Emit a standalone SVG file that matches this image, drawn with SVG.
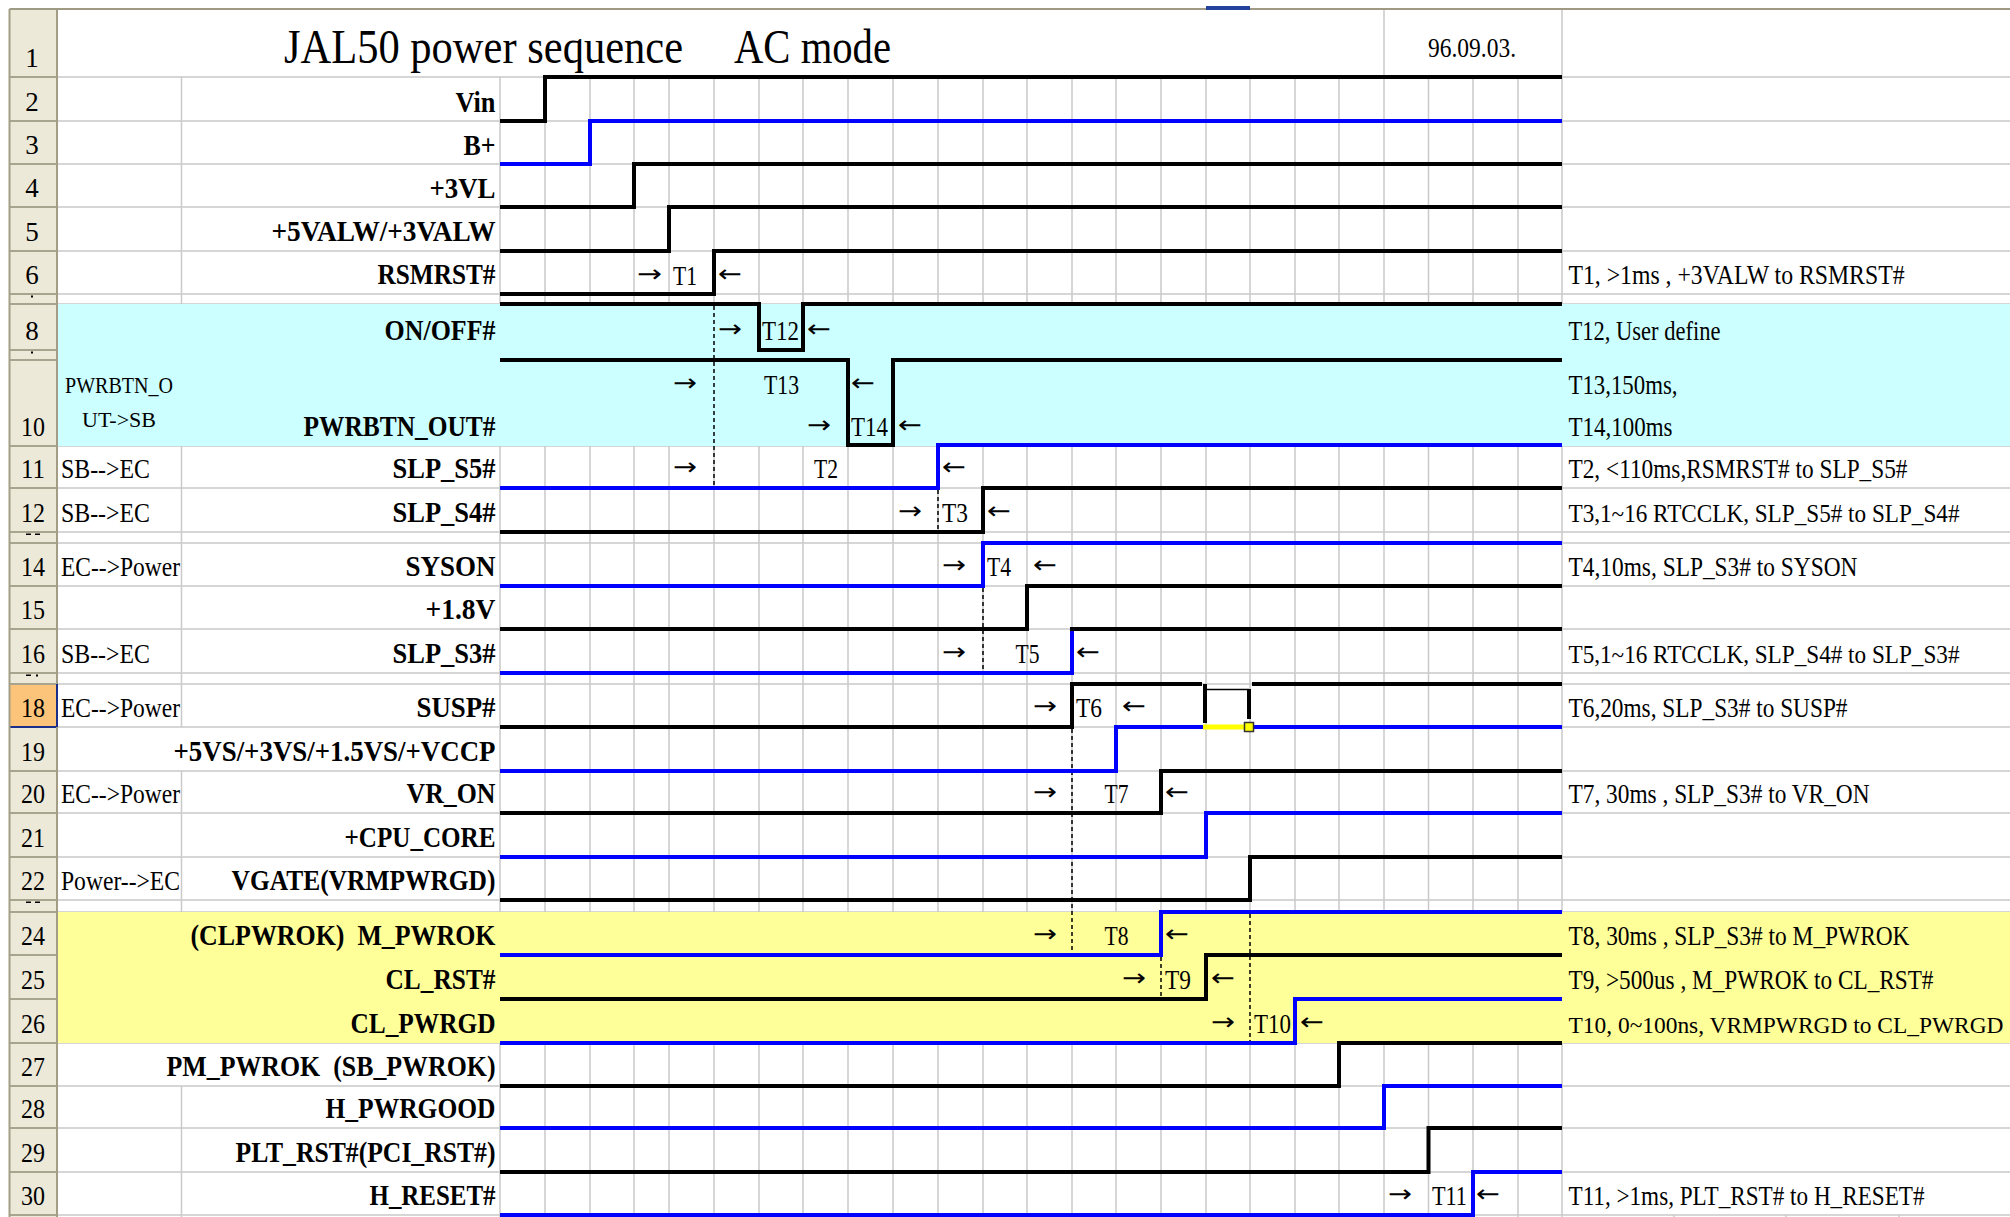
<svg xmlns="http://www.w3.org/2000/svg" width="2010" height="1217" viewBox="0 0 2010 1217">
<style>
.g{stroke:#C9C9C9;stroke-width:1.5;fill:none}
.h{stroke:#A9A48E;stroke-width:2;fill:none}
.k{fill:none;stroke:#000;stroke-width:4;stroke-linejoin:miter}
.b{fill:none;stroke:#0000FF;stroke-width:4;stroke-linejoin:miter}
.d{stroke:#000;stroke-width:1.5;stroke-dasharray:4 3;fill:none}
.lb{font-family:"Liberation Serif","DejaVu Serif",serif;font-weight:bold;font-size:29px;text-anchor:end;fill:#000}
.tx{font-family:"Liberation Serif","DejaVu Serif",serif;font-size:27px;fill:#000}
.ar{font-family:"DejaVu Sans","Liberation Sans",sans-serif;font-size:24px;fill:#000}
.nm{font-family:"Liberation Serif","DejaVu Serif",serif;font-size:27px;text-anchor:middle;fill:#000}
</style>
<rect width="2010" height="1217" fill="#FFFFFF"/>
<!-- grid -->
<g id="grid">
<path class="g" d="M57,77H2010M57,121H2010M57,164H2010M57,207H2010M57,251H2010M57,294H2010M57,304H2010M57,350H2010M57,360H2010M57,446H2010M57,488H2010M57,532H2010M57,543H2010M57,586H2010M57,629H2010M57,673H2010M57,684H2010M57,727H2010M57,771H2010M57,813H2010M57,857H2010M57,900H2010M57,912H2010M57,955H2010M57,999H2010M57,1043H2010M57,1086H2010M57,1128H2010M57,1172H2010M57,1215H2010"/>
<path class="g" d="M181.5,77V727M181.5,771V1043M181.5,1086V1217M500,77V1217M545,77V1217M590,77V1217M634,77V1217M669,77V1217M714,77V1217M759,77V1217M803,77V1217M848,77V1217M893,77V1217M938,77V1217M983,77V1217M1027,77V1217M1072,77V1217M1116,77V1217M1161,77V1217M1206,77V1217M1250,77V1217M1295,77V1217M1339,77V1217M1384,9V1217M1428.5,77V1217M1473,77V1217M1518,77V1217M1562,9V1217M1674,1215V1217M1786,1215V1217M1899,1215V1217"/>
</g>
<!-- bands -->
<rect x="57" y="304" width="1953" height="142" fill="#CCFFFF"/>
<rect x="57" y="912" width="1953" height="131" fill="#FFFF99"/>
<!-- row header -->
<g id="rowheader">
<rect x="9.5" y="9" width="47.5" height="1208" fill="#ECE9D8"/>
<rect x="10" y="684" width="47" height="43" fill="#FBC47A"/>
<path class="h" d="M9.5,77H57M9.5,121H57M9.5,164H57M9.5,207H57M9.5,251H57M9.5,294H57M9.5,304H57M9.5,350H57M9.5,360H57M9.5,446H57M9.5,488H57M9.5,532H57M9.5,543H57M9.5,586H57M9.5,629H57M9.5,673H57M9.5,684H57M9.5,771H57M9.5,813H57M9.5,857H57M9.5,900H57M9.5,912H57M9.5,955H57M9.5,999H57M9.5,1043H57M9.5,1086H57M9.5,1128H57M9.5,1172H57M9.5,1215H57"/>
<path d="M9.5,727H57M57,684V727" stroke="#1A2F8A" stroke-width="2" fill="none"/>
<path d="M57,9V684M57,727V1217M9.5,9V1217" stroke="#A39D85" stroke-width="2" fill="none"/>
<path d="M9.5,9H2010" stroke="#9E9A84" stroke-width="2" fill="none"/>
<rect x="1206" y="6" width="44" height="4" fill="#23429E"/>
<g fill="#000">
<rect x="31" y="295.5" width="2" height="2"/><rect x="31" y="351.5" width="2" height="2"/>
<rect x="26" y="533.5" width="5" height="1.5"/><rect x="35" y="533.5" width="5" height="1.5"/>
<rect x="26" y="674.5" width="5" height="1.5"/><rect x="36" y="674.5" width="2" height="2"/>
<rect x="26" y="901.5" width="5" height="1.5"/><rect x="35" y="901.5" width="5" height="1.5"/>
</g>
<text class="nm" x="32" y="67">1</text>
<text class="nm" x="32" y="111">2</text>
<text class="nm" x="32" y="154">3</text>
<text class="nm" x="32" y="197">4</text>
<text class="nm" x="32" y="241">5</text>
<text class="nm" x="32" y="284">6</text>
<text class="nm" x="32" y="340">8</text>
<text class="nm" x="33" y="436" textLength="24" lengthAdjust="spacingAndGlyphs">10</text>
<text class="nm" x="33" y="478" textLength="24" lengthAdjust="spacingAndGlyphs">11</text>
<text class="nm" x="33" y="522" textLength="24" lengthAdjust="spacingAndGlyphs">12</text>
<text class="nm" x="33" y="576" textLength="24" lengthAdjust="spacingAndGlyphs">14</text>
<text class="nm" x="33" y="619" textLength="24" lengthAdjust="spacingAndGlyphs">15</text>
<text class="nm" x="33" y="663" textLength="24" lengthAdjust="spacingAndGlyphs">16</text>
<text class="nm" x="33" y="717" textLength="24" lengthAdjust="spacingAndGlyphs">18</text>
<text class="nm" x="33" y="761" textLength="24" lengthAdjust="spacingAndGlyphs">19</text>
<text class="nm" x="33" y="803" textLength="24" lengthAdjust="spacingAndGlyphs">20</text>
<text class="nm" x="33" y="847" textLength="24" lengthAdjust="spacingAndGlyphs">21</text>
<text class="nm" x="33" y="890" textLength="24" lengthAdjust="spacingAndGlyphs">22</text>
<text class="nm" x="33" y="945" textLength="24" lengthAdjust="spacingAndGlyphs">24</text>
<text class="nm" x="33" y="989" textLength="24" lengthAdjust="spacingAndGlyphs">25</text>
<text class="nm" x="33" y="1033" textLength="24" lengthAdjust="spacingAndGlyphs">26</text>
<text class="nm" x="33" y="1076" textLength="24" lengthAdjust="spacingAndGlyphs">27</text>
<text class="nm" x="33" y="1118" textLength="24" lengthAdjust="spacingAndGlyphs">28</text>
<text class="nm" x="33" y="1162" textLength="24" lengthAdjust="spacingAndGlyphs">29</text>
<text class="nm" x="33" y="1205" textLength="24" lengthAdjust="spacingAndGlyphs">30</text>
</g>
<!-- title -->
<g id="title">
<text class="tx" x="284" y="63" style="font-size:48px" textLength="399" lengthAdjust="spacingAndGlyphs">JAL50 power sequence</text>
<text class="tx" x="734" y="63" style="font-size:48px" textLength="157" lengthAdjust="spacingAndGlyphs">AC mode</text>
<text class="tx" x="1428" y="57" style="font-size:28px" textLength="88" lengthAdjust="spacingAndGlyphs">96.09.03.</text>
</g>
<!-- connectors -->
<g id="connectors">
<path class="d" d="M714,306V486M938,490V530M983,588V671M1072,729V953M1161,957V997M1250,914V1041"/>
</g>
<!-- signals -->
<g id="sig-vin"><path class="k" d="M500,121H545V77H1562"/><text class="lb" x="495.5" y="112" textLength="40" lengthAdjust="spacingAndGlyphs">Vin</text></g>
<g id="sig-bplus"><path class="b" d="M500,164H590V121H1562"/><text class="lb" x="495.5" y="155" textLength="32" lengthAdjust="spacingAndGlyphs">B+</text></g>
<g id="sig-3vl"><path class="k" d="M500,207H634V164H1562"/><text class="lb" x="495.5" y="198" textLength="66" lengthAdjust="spacingAndGlyphs">+3VL</text></g>
<g id="sig-5valw"><path class="k" d="M500,251H669V207H1562"/><text class="lb" x="495.5" y="241" textLength="224" lengthAdjust="spacingAndGlyphs">+5VALW/+3VALW</text></g>
<g id="sig-rsmrst"><path class="k" d="M500,294H714V251H1562"/><text class="lb" x="495.5" y="284" textLength="118" lengthAdjust="spacingAndGlyphs">RSMRST#</text>
<text class="ar" x="637" y="282" textLength="25" lengthAdjust="spacingAndGlyphs">→</text><text class="tx" x="673" y="285" textLength="24" lengthAdjust="spacingAndGlyphs">T1</text><text class="ar" x="718" y="282" textLength="24" lengthAdjust="spacingAndGlyphs">←</text>
<text class="tx" x="1568.5" y="284" textLength="336" lengthAdjust="spacingAndGlyphs">T1, &gt;1ms , +3VALW to RSMRST#</text></g>
<g id="sig-onoff"><path class="k" d="M500,304H759V350H803V304H1562"/><text class="lb" x="495.5" y="340" textLength="111" lengthAdjust="spacingAndGlyphs">ON/OFF#</text>
<text class="ar" x="718" y="337" textLength="24" lengthAdjust="spacingAndGlyphs">→</text><text class="tx" x="762" y="340" textLength="37" lengthAdjust="spacingAndGlyphs">T12</text><text class="ar" x="807" y="337" textLength="24" lengthAdjust="spacingAndGlyphs">←</text>
<text class="tx" x="1568.5" y="340" textLength="152" lengthAdjust="spacingAndGlyphs">T12, User define</text></g>
<g id="sig-pwrbtn"><path class="k" d="M500,360H848V445H893V360H1562"/><text class="lb" x="495.5" y="436" textLength="192" lengthAdjust="spacingAndGlyphs">PWRBTN_OUT#</text>
<text class="tx" x="65" y="393" style="font-size:23px" textLength="108" lengthAdjust="spacingAndGlyphs">PWRBTN_O</text>
<text class="tx" x="82" y="427" style="font-size:22px" textLength="74" lengthAdjust="spacingAndGlyphs">UT-&gt;SB</text>
<text class="ar" x="673" y="391" textLength="24" lengthAdjust="spacingAndGlyphs">→</text><text class="tx" x="764" y="394" textLength="35" lengthAdjust="spacingAndGlyphs">T13</text><text class="ar" x="851" y="391" textLength="24" lengthAdjust="spacingAndGlyphs">←</text>
<text class="ar" x="807" y="433" textLength="24" lengthAdjust="spacingAndGlyphs">→</text><text class="tx" x="851" y="436" textLength="37" lengthAdjust="spacingAndGlyphs">T14</text><text class="ar" x="898" y="433" textLength="24" lengthAdjust="spacingAndGlyphs">←</text>
<text class="tx" x="1568.5" y="394" textLength="109" lengthAdjust="spacingAndGlyphs">T13,150ms,</text>
<text class="tx" x="1568.5" y="436" textLength="104" lengthAdjust="spacingAndGlyphs">T14,100ms</text></g>
<g id="sig-slps5"><path class="b" d="M500,488H938V445H1562"/><text class="lb" x="495.5" y="478" textLength="103" lengthAdjust="spacingAndGlyphs">SLP_S5#</text>
<text class="tx" x="61" y="478" textLength="89" lengthAdjust="spacingAndGlyphs">SB--&gt;EC</text>
<text class="ar" x="673" y="475" textLength="24" lengthAdjust="spacingAndGlyphs">→</text><text class="tx" x="814" y="478" textLength="24" lengthAdjust="spacingAndGlyphs">T2</text><text class="ar" x="942" y="475" textLength="24" lengthAdjust="spacingAndGlyphs">←</text>
<text class="tx" x="1568.5" y="478" textLength="339" lengthAdjust="spacingAndGlyphs">T2, &lt;110ms,RSMRST# to SLP_S5#</text></g>
<g id="sig-slps4"><path class="k" d="M500,532H983V488H1562"/><text class="lb" x="495.5" y="522" textLength="103" lengthAdjust="spacingAndGlyphs">SLP_S4#</text>
<text class="tx" x="61" y="522" textLength="89" lengthAdjust="spacingAndGlyphs">SB--&gt;EC</text>
<text class="ar" x="898" y="519" textLength="24" lengthAdjust="spacingAndGlyphs">→</text><text class="tx" x="942" y="522" textLength="26" lengthAdjust="spacingAndGlyphs">T3</text><text class="ar" x="987" y="519" textLength="24" lengthAdjust="spacingAndGlyphs">←</text>
<text class="tx" x="1568.5" y="522" style="font-size:25px" textLength="391" lengthAdjust="spacingAndGlyphs">T3,1~16 RTCCLK, SLP_S5# to SLP_S4#</text></g>
<g id="sig-syson"><path class="b" d="M500,586H983V543H1562"/><text class="lb" x="495.5" y="576" textLength="90" lengthAdjust="spacingAndGlyphs">SYSON</text>
<text class="tx" x="61" y="576" textLength="119" lengthAdjust="spacingAndGlyphs">EC--&gt;Power</text>
<text class="ar" x="942" y="573" textLength="24" lengthAdjust="spacingAndGlyphs">→</text><text class="tx" x="987" y="576" textLength="24" lengthAdjust="spacingAndGlyphs">T4</text><text class="ar" x="1033" y="573" textLength="24" lengthAdjust="spacingAndGlyphs">←</text>
<text class="tx" x="1568.5" y="576" textLength="289" lengthAdjust="spacingAndGlyphs">T4,10ms, SLP_S3# to SYSON</text></g>
<g id="sig-18v"><path class="k" d="M500,629H1027V586H1562"/><text class="lb" x="495.5" y="619" textLength="70" lengthAdjust="spacingAndGlyphs">+1.8V</text></g>
<g id="sig-slps3"><path class="b" d="M500,673H1072V629"/><path class="k" d="M1070,629H1562"/><text class="lb" x="495.5" y="663" textLength="103" lengthAdjust="spacingAndGlyphs">SLP_S3#</text>
<text class="tx" x="61" y="663" textLength="89" lengthAdjust="spacingAndGlyphs">SB--&gt;EC</text>
<text class="ar" x="942" y="660" textLength="24" lengthAdjust="spacingAndGlyphs">→</text><text class="tx" x="1015.5" y="663" textLength="24" lengthAdjust="spacingAndGlyphs">T5</text><text class="ar" x="1076" y="660" textLength="24" lengthAdjust="spacingAndGlyphs">←</text>
<text class="tx" x="1568.5" y="663" style="font-size:25px" textLength="391" lengthAdjust="spacingAndGlyphs">T5,1~16 RTCCLK, SLP_S4# to SLP_S3#</text></g>
<g id="sig-susp"><path class="k" d="M500,727H1072V684H1202"/><path class="k" d="M1205,684V723"/><path d="M1205,689.5H1249" stroke="#000" stroke-width="1.5" fill="none"/><path class="k" d="M1249,689V719"/><path class="k" d="M1252,684H1562"/>
<text class="lb" x="495.5" y="717" textLength="79" lengthAdjust="spacingAndGlyphs">SUSP#</text>
<text class="tx" x="61" y="717" textLength="119" lengthAdjust="spacingAndGlyphs">EC--&gt;Power</text>
<text class="ar" x="1033" y="714" textLength="24" lengthAdjust="spacingAndGlyphs">→</text><text class="tx" x="1076" y="717" textLength="26" lengthAdjust="spacingAndGlyphs">T6</text><text class="ar" x="1122" y="714" textLength="24" lengthAdjust="spacingAndGlyphs">←</text>
<text class="tx" x="1568.5" y="717" textLength="279" lengthAdjust="spacingAndGlyphs">T6,20ms, SLP_S3# to SUSP#</text></g>
<g id="sig-5vs"><path class="b" d="M500,771H1116V727H1203"/><path d="M1203,727H1244" stroke="#FFFF00" stroke-width="5" fill="none"/><path class="b" d="M1254,727H1562"/><rect x="1244.5" y="722.5" width="9" height="9" fill="#FFFF00" stroke="#333" stroke-width="1.5"/>
<text class="lb" x="495.5" y="761" textLength="322" lengthAdjust="spacingAndGlyphs">+5VS/+3VS/+1.5VS/+VCCP</text></g>
<g id="sig-vron"><path class="k" d="M500,813H1161V771H1562"/><text class="lb" x="495.5" y="803" textLength="89" lengthAdjust="spacingAndGlyphs">VR_ON</text>
<text class="tx" x="61" y="803" textLength="119" lengthAdjust="spacingAndGlyphs">EC--&gt;Power</text>
<text class="ar" x="1033" y="800" textLength="24" lengthAdjust="spacingAndGlyphs">→</text><text class="tx" x="1104.5" y="803" textLength="24" lengthAdjust="spacingAndGlyphs">T7</text><text class="ar" x="1165" y="800" textLength="24" lengthAdjust="spacingAndGlyphs">←</text>
<text class="tx" x="1568.5" y="803" textLength="301" lengthAdjust="spacingAndGlyphs">T7, 30ms , SLP_S3# to VR_ON</text></g>
<g id="sig-cpucore"><path class="b" d="M500,857H1206V813H1562"/><text class="lb" x="495.5" y="847" textLength="151" lengthAdjust="spacingAndGlyphs">+CPU_CORE</text></g>
<g id="sig-vgate"><path class="k" d="M500,900H1250V857H1562"/><text class="lb" x="495.5" y="890" textLength="264" lengthAdjust="spacingAndGlyphs">VGATE(VRMPWRGD)</text>
<text class="tx" x="61" y="890" textLength="119" lengthAdjust="spacingAndGlyphs">Power--&gt;EC</text></g>
<g id="sig-mpwrok"><path class="b" d="M500,955H1161V912H1562"/><text class="lb" x="495.5" y="945" textLength="305" lengthAdjust="spacingAndGlyphs" xml:space="preserve">(CLPWROK)  M_PWROK</text>
<text class="ar" x="1033" y="942" textLength="24" lengthAdjust="spacingAndGlyphs">→</text><text class="tx" x="1104.5" y="945" textLength="24" lengthAdjust="spacingAndGlyphs">T8</text><text class="ar" x="1165" y="942" textLength="24" lengthAdjust="spacingAndGlyphs">←</text>
<text class="tx" x="1568.5" y="945" textLength="341" lengthAdjust="spacingAndGlyphs">T8, 30ms , SLP_S3# to M_PWROK</text></g>
<g id="sig-clrst"><path class="k" d="M500,999H1206V955H1562"/><text class="lb" x="495.5" y="989" textLength="110" lengthAdjust="spacingAndGlyphs">CL_RST#</text>
<text class="ar" x="1122" y="986" textLength="24" lengthAdjust="spacingAndGlyphs">→</text><text class="tx" x="1165" y="989" textLength="26" lengthAdjust="spacingAndGlyphs">T9</text><text class="ar" x="1211" y="986" textLength="24" lengthAdjust="spacingAndGlyphs">←</text>
<text class="tx" x="1568.5" y="989" textLength="365" lengthAdjust="spacingAndGlyphs">T9, &gt;500us , M_PWROK to CL_RST#</text></g>
<g id="sig-clpwrgd"><path class="b" d="M500,1043H1295V999H1562"/><text class="lb" x="495.5" y="1033" textLength="145" lengthAdjust="spacingAndGlyphs">CL_PWRGD</text>
<text class="ar" x="1211" y="1030" textLength="24" lengthAdjust="spacingAndGlyphs">→</text><text class="tx" x="1254" y="1033" textLength="37" lengthAdjust="spacingAndGlyphs">T10</text><text class="ar" x="1300" y="1030" textLength="24" lengthAdjust="spacingAndGlyphs">←</text>
<text class="tx" x="1568.5" y="1033" style="font-size:23px" textLength="435" lengthAdjust="spacingAndGlyphs">T10, 0~100ns, VRMPWRGD to CL_PWRGD</text></g>
<g id="sig-pmpwrok"><path class="k" d="M500,1086H1339V1043H1562"/><text class="lb" x="495.5" y="1076" textLength="329" lengthAdjust="spacingAndGlyphs" xml:space="preserve">PM_PWROK  (SB_PWROK)</text></g>
<g id="sig-hpwrgood"><path class="b" d="M500,1128H1384V1086H1562"/><text class="lb" x="495.5" y="1118" textLength="170" lengthAdjust="spacingAndGlyphs">H_PWRGOOD</text></g>
<g id="sig-pltrst"><path class="k" d="M500,1172H1428.5V1128H1562"/><text class="lb" x="495.5" y="1162" textLength="260" lengthAdjust="spacingAndGlyphs">PLT_RST#(PCI_RST#)</text></g>
<g id="sig-hreset"><path class="b" d="M500,1215H1473V1172H1562"/><text class="lb" x="495.5" y="1205" textLength="126" lengthAdjust="spacingAndGlyphs">H_RESET#</text>
<text class="ar" x="1388" y="1202" textLength="24" lengthAdjust="spacingAndGlyphs">→</text><text class="tx" x="1432" y="1205" textLength="35" lengthAdjust="spacingAndGlyphs">T11</text><text class="ar" x="1476" y="1202" textLength="24" lengthAdjust="spacingAndGlyphs">←</text>
<text class="tx" x="1568.5" y="1205" textLength="356" lengthAdjust="spacingAndGlyphs">T11, &gt;1ms, PLT_RST# to H_RESET#</text></g>
</svg>
